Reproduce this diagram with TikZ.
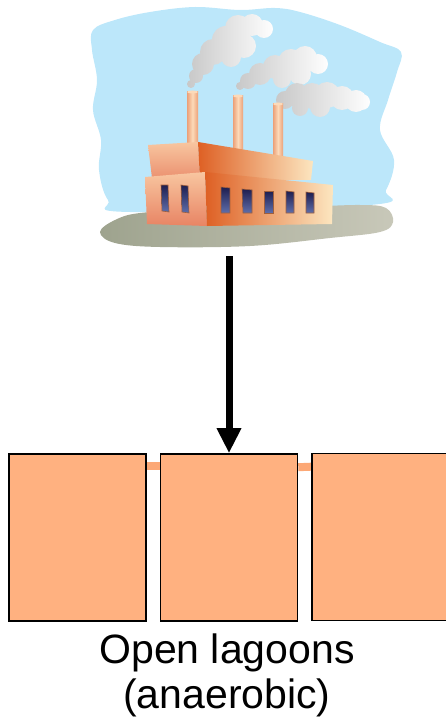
\documentclass[tikz,border=0pt]{standalone}
\usepackage{fontspec}
\setmainfont{Liberation Sans}
\usetikzlibrary{arrows.meta,backgrounds}

\definecolor{skyblue}{RGB}{188,231,250}
\definecolor{groundL}{RGB}{158,163,142}
\definecolor{groundR}{RGB}{200,200,185}
\definecolor{smokeD}{RGB}{200,200,200}
\definecolor{smokeL}{RGB}{254,254,254}
\definecolor{brick}{RGB}{222,96,36}
\definecolor{cream}{RGB}{252,230,192}
\definecolor{peach}{RGB}{248,198,160}
\definecolor{salmon}{RGB}{232,132,100}
\definecolor{stackL}{RGB}{236,160,120}
\definecolor{stackM}{RGB}{252,218,185}
\definecolor{paneD}{RGB}{30,30,80}
\definecolor{paneL}{RGB}{95,110,170}
\definecolor{frame}{RGB}{160,95,60}
\definecolor{lagoonfill}{RGB}{255,177,128}
\definecolor{pipefill}{RGB}{252,168,118}

\tikzset{
  lagoon/.style={draw=black, line width=1.6pt, fill=lagoonfill,
    minimum width=137pt, minimum height=167pt, inner sep=0pt},
  pipe/.style={draw=pipefill, line width=8pt},
  flow/.style={draw=black, line width=7pt,
    -{Triangle[length=25pt,width=23pt]}},
  caption/.style={font=\fontsize{41}{45}\selectfont, align=center,
    inner sep=0pt, anchor=north},
  stack/.style={left color=stackL, right color=stackL, middle color=stackM},
  window/.style={draw=frame, line width=0.6pt, top color=paneD, bottom color=paneL}
}

\begin{document}
\begin{tikzpicture}[x=1pt, y=-1pt]
\useasboundingbox (0,0) rectangle (446,722);

% ---- sky behind the plant
\fill[skyblue] plot[smooth cycle, tension=0.6] coordinates {
  (93,30) (115,20) (150,12) (195,7) (240,10) (275,8) (300,12) (340,25)
  (380,42) (401,52) (397,72) (388,100) (380,130) (394,160) (386,190)
  (370,205) (130,212) (108,200) (99,170) (101,140) (93,110) (97,80) (92,50)};

% ---- ground
\shade[left color=groundL, right color=groundR] plot[smooth cycle, tension=0.6] coordinates {
  (100,232) (115,220) (140,213) (200,210) (300,207) (360,205) (386,208)
  (393,222) (380,232) (330,238) (250,246) (160,247) (115,243)};

% ---- smoke clouds
\shade[shading angle=45, left color=smokeD, right color=smokeL]
  (191,84) circle (4) (196,76) circle (7) (203,64) circle (11)
  (213,52) circle (13) (226,40) circle (14) (238,28) circle (13)
  (252,25) circle (11) (264,29) circle (9) (244,46) circle (12)
  (231,57) circle (10);
\shade[shading angle=45, left color=smokeD, right color=smokeL]
  (240,86) circle (4) (248,81) circle (8) (260,74) circle (11)
  (275,67) circle (12) (291,62) circle (13) (305,58) circle (12)
  (318,64) circle (10) (300,74) circle (11) (282,79) circle (9);
\shade[shading angle=60, left color=smokeD, right color=smokeL]
  (285,100) circle (9) (297,95) circle (12) (312,96) circle (13)
  (327,95) circle (13) (342,98) circle (12) (356,101) circle (11)
  (362,102) circle (8) (320,107) circle (10) (300,108) circle (8);

% ---- chimneys
\shade[stack] (187,92) rectangle (198,146);
\shade[stack] (233,96) rectangle (243,152);
\shade[stack] (273,104) rectangle (283,158);
\fill[stackM] (192.5,92) ellipse (5.5 and 1.5);
\fill[stackM] (238,96) ellipse (5 and 1.5);
\fill[stackM] (278,104) ellipse (5 and 1.5);

% ---- rear block
\shade[top color=peach, bottom color=salmon!80!peach]
  (148,145) -- (198,142) -- (200,178) -- (152,178) -- cycle;
\shade[left color=brick, right color=cream]
  (198,142) -- (313,161) -- (311,180) -- (200,180) -- cycle;

% ---- front block
\shade[shading angle=30, top color=peach, bottom color=salmon]
  (145,177) -- (205,172) -- (207,226) -- (147,224) -- cycle;
\shade[left color=brick, right color=cream]
  (205,172) -- (333,185) -- (332,224) -- (207,226) -- cycle;

% ---- windows
\shade[window] (161,185) -- (168,185) -- (169,212) -- (162,211) -- cycle;
\shade[window] (181,185) -- (188,186) -- (189,213) -- (182,212) -- cycle;
\shade[window] (221,187) -- (230,188) -- (230,213) -- (221,213) -- cycle;
\shade[window] (242,189) -- (252,190) -- (252,213) -- (243,213) -- cycle;
\shade[window] (264,191) -- (273,191) -- (273,213) -- (264,213) -- cycle;
\shade[window] (286,191) -- (294,192) -- (294,213) -- (286,213) -- cycle;
\shade[window] (306,192) -- (314,193) -- (314,213) -- (306,213) -- cycle;

% ---- lagoons (the third one runs past the right edge)
\node[lagoon] (lag1) at (77.5,537.5) {};
\node[lagoon] (lag2) at (229,537.5) {};
\node[lagoon, minimum width=150pt] (lag3) at (387,537) {};

\begin{scope}[on background layer]
  \draw[pipe] ([yshift=-13pt]lag1.north east) -- ([yshift=-13pt]lag2.north west);
  \draw[pipe] ([yshift=-14pt]lag2.north east) -- ([yshift=-14pt]lag3.north west);
\end{scope}

% ---- wastewater flow from the plant
\coordinate (plant) at (229,256);
\draw[flow] (plant) -- (lag2.north);

% ---- caption
\node[caption] (cap) at (227,634) {Open lagoons\\(anaerobic)};
\end{tikzpicture}
\end{document}
